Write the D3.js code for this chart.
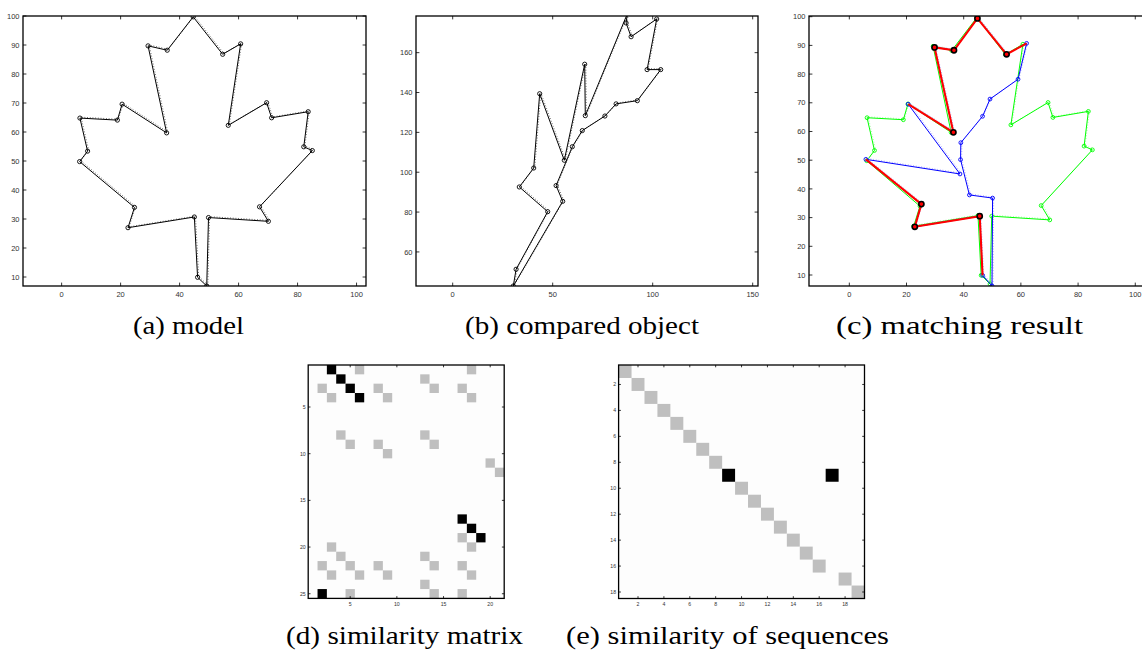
<!DOCTYPE html>
<html>
<head>
<meta charset="utf-8">
<script src="https://cdn.jsdelivr.net/npm/d3@7"></script>
<style>
  body { margin: 0; background: #fff; }
  svg { display: block; }
</style>
</head>
<body>
<svg id="fig" width="1142" height="652"></svg>
<script>
// ---- Model leaf contour (closed polygon, 25 vertices) ----
const modelX = [49.2, 46.1, 45.0, 22.5, 24.7, 6.1, 8.8, 6.2, 18.9, 20.5, 35.6, 29.3, 35.8,
                44.6, 54.6, 60.7, 56.5, 69.5, 71.2, 83.6, 82.1, 85.0, 67.1, 70.1, 49.8];
const modelY = [6.9, 9.9, 30.7, 27.0, 34.0, 49.8, 53.4, 64.8, 64.1, 69.6, 59.7, 89.7, 88.2,
                99.7, 86.8, 90.4, 62.3, 70.1, 64.9, 67.0, 54.9, 53.6, 34.2, 29.2, 30.5];

// ---- Compared object contour (closed polygon) ----
const objX = [30.3, 31.7, 47.5, 33.3, 40.5, 43.5, 55.8, 66.0, 66.3, 87.3, 86.7, 89.2, 102.0,
              97.2, 104.0, 92.3, 81.7, 76.1, 64.8, 59.8, 51.7, 55.0];
const objY = [42.9, 51.3, 80.2, 92.6, 102.1, 139.4, 106.0, 154.2, 128.4, 179.5, 174.9, 168.0, 176.9,
              151.5, 151.5, 135.9, 134.3, 128.2, 120.9, 112.8, 93.3, 85.4];

// ---- Compared object after alignment onto the model (21 vertices) ----
const alignedX = [49.9, 46.6, 45.6, 22.9, 25.2, 5.8, 38.7, 20.6, 36.4, 29.8, 36.6, 44.8, 55.0,
                  62.0, 59.0, 49.2, 46.6, 39.0, 38.9, 42.0, 50.1];
const alignedY = [6.2, 9.9, 30.5, 26.8, 34.7, 50.3, 45.2, 69.5, 59.7, 89.3, 88.3, 99.4, 86.9,
                  90.7, 78.2, 71.3, 65.3, 56.1, 50.2, 37.9, 36.8];
// matched runs along the aligned contour: [first vertex index, last vertex index]
const matchedRuns = [[1, 5], [7, 13]];

// ---- Similarity matrix (25 model segments x 21 object segments): [row, col] ----
const simStrong = [[1, 3], [2, 4], [3, 5], [4, 6], [17, 17], [18, 18], [19, 19], [25, 2]];
const simWeak = [
  [1, 6], [1, 18], [2, 13], [3, 2], [3, 8], [3, 14], [3, 17], [4, 3], [4, 9], [4, 18],
  [8, 4], [8, 13], [9, 5], [9, 8], [9, 14], [10, 9], [11, 20], [12, 21], [19, 17],
  [20, 3], [20, 18], [21, 4], [21, 13], [22, 2], [22, 5], [22, 8], [22, 14], [22, 17],
  [23, 3], [23, 6], [23, 9], [23, 18], [24, 13], [25, 5], [25, 14], [25, 17]
];
const simRows = 25, simCols = 21;

// ---- Similarity of sequences (18 x 19): [row, col] ----
const seqStrong = [[9, 9], [9, 17]];
const seqWeak = [[1, 1], [2, 2], [3, 3], [4, 4], [5, 5], [6, 6], [7, 7], [8, 8], [10, 10],
                 [11, 11], [12, 12], [13, 13], [14, 14], [15, 15], [16, 16], [17, 18], [18, 19]];
const seqRows = 18, seqCols = 19;

// ---- Tick values ----
const ticksA = { x: [0, 20, 40, 60, 80, 100], y: [10, 20, 30, 40, 50, 60, 70, 80, 90, 100] };
const ticksB = { x: [0, 50, 100, 150], y: [60, 80, 100, 120, 140, 160] };
const ticksC = { x: [0, 20, 40, 60, 80, 100], y: [10, 20, 30, 40, 50, 60, 70, 80, 90, 100] };
const ticksD = { x: [5, 10, 15, 20], y: [5, 10, 15, 20, 25] };
const ticksE = { x: [2, 4, 6, 8, 10, 12, 14, 16, 18], y: [2, 4, 6, 8, 10, 12, 14, 16, 18] };

// ---- Captions ----
const captions = [
  { text: "(a) model", cx: 188.5, y: 334, w: 111 },
  { text: "(b) compared object", cx: 582, y: 334, w: 234 },
  { text: "(c) matching result", cx: 959.5, y: 334, w: 247 },
  { text: "(d) similarity matrix", cx: 404.5, y: 643.5, w: 237 },
  { text: "(e) similarity of sequences", cx: 727.5, y: 643.5, w: 323 }
];

const svg = d3.select("#fig");
const GREEN = "#00ff00", BLUE = "#0000ff", RED = "#ff0000";
const grays = d3.scaleOrdinal().domain(["weak", "strong"]).range(["#bfbfbf", "#000000"]);

// Generic boxed axes with inward ticks on all four sides
function frame(g, x, y, ticks, opt) {
  const [x0, x1] = x.range(), [y0, y1] = y.range();
  const L = opt.tickLen;
  const tk = g.append("g").attr("stroke", "#000").attr("stroke-width", 0.8);
  ticks.x.forEach(v => {
    const px = x(v);
    tk.append("line").attr("x1", px).attr("x2", px).attr("y1", y0).attr("y2", y0 - L);
    tk.append("line").attr("x1", px).attr("x2", px).attr("y1", y1).attr("y2", y1 + L);
  });
  ticks.y.forEach(v => {
    const py = y(v);
    tk.append("line").attr("x1", x0).attr("x2", x0 + L).attr("y1", py).attr("y2", py);
    tk.append("line").attr("x1", x1).attr("x2", x1 - L).attr("y1", py).attr("y2", py);
  });
  g.append("rect")
    .attr("x", x0).attr("y", y1).attr("width", x1 - x0).attr("height", y0 - y1)
    .attr("fill", "none").attr("stroke", "#000").attr("stroke-width", 1.3);
  const lab = g.append("g")
    .attr("font-family", "Liberation Sans, Arial, sans-serif")
    .attr("font-size", opt.font).attr("fill", "#333");
  ticks.x.forEach(v => {
    lab.append("text").attr("x", x(v)).attr("y", y0 + opt.xOff)
      .attr("text-anchor", "middle").text(v);
  });
  ticks.y.forEach(v => {
    lab.append("text").attr("x", x0 - opt.yOff).attr("y", y(v))
      .attr("dy", "0.35em").attr("text-anchor", "end").text(v);
  });
}

function clipFor(id, x, y) {
  const [x0, x1] = x.range(), [y0, y1] = y.range();
  svg.append("clipPath").attr("id", id).append("rect")
    .attr("x", x0).attr("y", y1).attr("width", x1 - x0).attr("height", y0 - y1);
  return `url(#${id})`;
}

function contour(g, x, y, xs, ys, color, opt) {
  const pts = xs.map((v, i) => [v, ys[i]]);
  const line = d3.line().x(d => x(d[0])).y(d => y(d[1]))
    .curve(opt.closed ? d3.curveLinearClosed : d3.curveLinear);
  // sampled raw contour, shown as a faint dotted trace alongside the polygon
  g.append("path").datum(pts).attr("d", line)
    .attr("transform", "translate(1.1,-0.9)")
    .attr("fill", "none").attr("stroke", opt.dotColor).attr("stroke-width", 0.9)
    .attr("stroke-dasharray", "0.9,1.8");
  g.append("path").datum(pts).attr("d", line)
    .attr("fill", "none").attr("stroke", color).attr("stroke-width", opt.width || 1);
  g.append("g").selectAll("circle").data(pts).join("circle")
    .attr("cx", d => x(d[0])).attr("cy", d => y(d[1])).attr("r", opt.r || 2.1)
    .attr("fill", "none").attr("stroke", color).attr("stroke-width", 0.9);
}

const bigOpt = { tickLen: 3.4, font: 7.5, xOff: 11, yOff: 3.5 };

// ---------- (a) model ----------
{
  const x = d3.scaleLinear().domain([-13.1, 103.2]).range([23, 366]);
  const y = d3.scaleLinear().domain([6.9, 100]).range([286, 16]);
  const g = svg.append("g");
  const body = g.append("g").attr("clip-path", clipFor("clipA", x, y));
  contour(body, x, y, modelX, modelY, "#000", { closed: true, dotColor: "#555" });
  frame(g, x, y, ticksA, bigOpt);
}

// ---------- (b) compared object ----------
{
  const x = d3.scaleLinear().domain([-18.35, 152.65]).range([416, 758]);
  const y = d3.scaleLinear().domain([42.9, 178.4]).range([286, 16]);
  const g = svg.append("g");
  const body = g.append("g").attr("clip-path", clipFor("clipB", x, y));
  contour(body, x, y, objX, objY, "#000", { closed: true, dotColor: "#555" });
  frame(g, x, y, ticksB, bigOpt);
}

// ---------- (c) matching result ----------
{
  const x = d3.scaleLinear().domain([-14.1, 106.2]).range([809, 1153]);
  const y = d3.scaleLinear().domain([6.17, 100.24]).range([286, 16]);
  const g = svg.append("g");
  const body = g.append("g").attr("clip-path", clipFor("clipC", x, y));
  contour(body, x, y, modelX, modelY, GREEN, { closed: true, dotColor: "#9cf59c", r: 1.9 });
  contour(body, x, y, alignedX, alignedY, BLUE, { closed: true, dotColor: "#a0a0ff", r: 1.9 });
  const line = d3.line().x(d => x(d[0])).y(d => y(d[1]));
  matchedRuns.forEach(([a, b]) => {
    const seg = d3.range(a, b + 1).map(i => [alignedX[i], alignedY[i]]);
    body.append("path").datum(seg).attr("d", line)
      .attr("fill", "none").attr("stroke", RED).attr("stroke-width", 2.1)
      .attr("stroke-linejoin", "round");
  });
  const inner = matchedRuns.flatMap(([a, b]) => d3.range(a + 1, b));
  body.append("g").selectAll("circle").data(inner).join("circle")
    .attr("cx", i => x(alignedX[i])).attr("cy", i => y(alignedY[i])).attr("r", 2.6)
    .attr("fill", RED).attr("stroke", "#000").attr("stroke-width", 1.6);
  frame(g, x, y, ticksC, bigOpt);
}

// ---------- matrix panels ----------
function matrix(id, strong, weak, rows, cols, x0, x1, y0, y1, ticks) {
  const x = d3.scaleLinear().domain([0.5, cols + 0.5]).range([x0, x1]);
  const y = d3.scaleLinear().domain([0.5, rows + 0.5]).range([y0, y1]);
  const yAxis = d3.scaleLinear().domain([rows + 0.5, 0.5]).range([y1, y0]);
  const g = svg.append("g");
  g.append("rect").attr("x", x0).attr("y", y0).attr("width", x1 - x0).attr("height", y1 - y0)
    .attr("fill", "#fdfdfd");
  const cells = weak.map(d => ({ r: d[0], c: d[1], k: "weak" }))
    .concat(strong.map(d => ({ r: d[0], c: d[1], k: "strong" })));
  g.append("g").attr("clip-path", clipFor(id, x, yAxis)).selectAll("rect").data(cells).join("rect")
    .attr("x", d => x(d.c - 0.5)).attr("y", d => y(d.r - 0.5))
    .attr("width", x(1.5) - x(0.5)).attr("height", y(1.5) - y(0.5))
    .attr("fill", d => grays(d.k));
  frame(g, x, yAxis, ticks, { tickLen: 2.3, font: 5.2, xOff: 7.5, yOff: 2.5 });
}
matrix("clipD", simStrong, simWeak, simRows, simCols, 308.2, 504.2, 365, 598.4, ticksD);
matrix("clipE", seqStrong, seqWeak, seqRows, seqCols, 618.6, 864.5, 365, 598.5, ticksE);

// ---------- captions ----------
svg.append("g")
  .attr("font-family", "Liberation Serif, Times New Roman, serif")
  .attr("font-size", 26).attr("fill", "#000")
  .selectAll("text").data(captions).join("text")
  .attr("x", d => d.cx - d.w / 2).attr("y", d => d.y)
  .attr("textLength", d => d.w).attr("lengthAdjust", "spacingAndGlyphs")
  .text(d => d.text);
</script>
</body>
</html>
